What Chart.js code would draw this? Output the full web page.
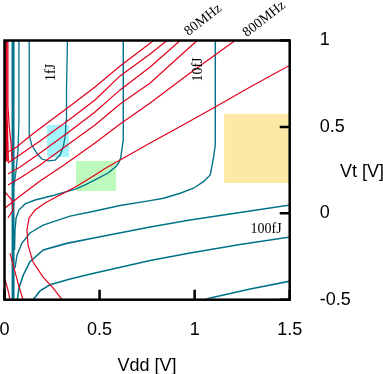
<!DOCTYPE html>
<html>
<head>
<meta charset="utf-8">
<script src="https://cdn.jsdelivr.net/npm/chart.js@4/dist/chart.umd.min.js"></script>
<style>
  html, body { margin: 0; padding: 0; background: #fff; }
</style>
</head>
<body>
<canvas id="chart" width="383" height="374"></canvas>
<script>
// axis ticks
const xTicks = [0, 0.5, 1, 1.5];
const yTicks = [-0.5, 0, 0.5, 1];

// energy contours (teal), [Vdd, Vt]
const tealEdge = [[0.045, 1.0], [0.045, -0.5]];
const tealInner = [[0.076, 1.0], [0.076, 0.54], [0.071, 0.366], [0.061, 0.25], [0.05, 0.16]];
const energy1fJ = [[0.130, 1.0], [0.130, 0.453], [0.143, 0.395], [0.169, 0.349], [0.196, 0.314], [0.231, 0.303], [0.266, 0.308], [0.292, 0.337], [0.309, 0.384], [0.320, 0.453], [0.324, 0.54], [0.326, 0.714], [0.331, 1.0]];
const energyA = [[0.625, 1.0], [0.625, 0.656], [0.624, 0.424], [0.617, 0.366], [0.611, 0.32], [0.600, 0.291], [0.589, 0.274], [0.545, 0.233], [0.476, 0.193], [0.424, 0.164], [0.376, 0.141], [0.266, 0.106], [0.161, 0.077], [0.108, 0.054], [0.076, 0.019], [0.061, -0.027], [0.055, -0.097], [0.053, -0.212]];
const energy10fJ = [[1.109, 1.0], [1.109, 0.656], [1.108, 0.395], [1.099, 0.32], [1.089, 0.262], [1.082, 0.222], [1.046, 0.183], [0.994, 0.145], [0.924, 0.116], [0.836, 0.087], [0.766, 0.073], [0.608, 0.045], [0.476, 0.013], [0.345, -0.016], [0.203, -0.068], [0.134, -0.114], [0.092, -0.172], [0.066, -0.241], [0.055, -0.317]];
const energyB = [[1.503, 0.048], [1.239, 0.005], [0.976, -0.039], [0.766, -0.079], [0.476, -0.141], [0.327, -0.174], [0.204, -0.212], [0.134, -0.28], [0.099, -0.357], [0.076, -0.432], [0.068, -0.5]];
const energy100fJ = [[1.503, -0.137], [1.239, -0.181], [0.976, -0.23], [0.766, -0.273], [0.476, -0.345], [0.345, -0.38], [0.239, -0.414], [0.187, -0.449], [0.15, -0.5]];
const energyC = [[1.503, -0.392], [1.292, -0.438], [1.082, -0.49], [1.055, -0.5]];

// frequency contours (red), [Vdd, Vt]
const freq1 = [[0.782, 1.0], [0.766, 0.984], [0.608, 0.852], [0.476, 0.731], [0.345, 0.621], [0.239, 0.534], [0.134, 0.447], [0.064, 0.384], [0.018, 0.355]];
const freq2 = [[0.855, 1.0], [0.766, 0.922], [0.608, 0.795], [0.476, 0.656], [0.345, 0.546], [0.187, 0.418], [0.064, 0.326], [0.018, 0.291]];
const freq3 = [[0.924, 1.0], [0.766, 0.847], [0.608, 0.714], [0.476, 0.586], [0.345, 0.476], [0.187, 0.349], [0.082, 0.268], [0.018, 0.227]];
const freq4 = [[1.013, 1.0], [0.766, 0.754], [0.608, 0.633], [0.476, 0.511], [0.345, 0.407], [0.187, 0.28], [0.082, 0.204], [0.018, 0.164]];
const freq5 = [[1.213, 1.0], [0.976, 0.812], [0.766, 0.638], [0.608, 0.517], [0.476, 0.407], [0.313, 0.28], [0.187, 0.187], [0.082, 0.1], [0.003, 0.031]];
const freq6 = [[1.503, 0.858], [1.292, 0.731], [1.108, 0.615], [0.924, 0.502], [0.766, 0.407], [0.608, 0.308], [0.529, 0.259], [0.476, 0.222], [0.382, 0.158], [0.292, 0.106], [0.213, 0.06], [0.161, 0.019], [0.129, -0.027], [0.118, -0.097], [0.124, -0.184], [0.15, -0.282], [0.203, -0.369], [0.255, -0.432], [0.303, -0.5]];
const freqLow1 = [[0.006, 1.0], [0.006, 0.55], [0.008, 0.4], [0.01, 0.3]];
const freqLow2 = [[0.012, 1.0], [0.012, 0.6], [0.016, 0.45], [0.02, 0.3]];
const freqLow3 = [[0.018, 1.0], [0.018, 0.62], [0.025, 0.5], [0.035, 0.4], [0.04, 0.3]];
const freqLow4 = [[0.003, 0.123], [0.039, 0.077], [0.045, 0.019], [0.018, -0.027]];
const freqLow5 = [[0.029, -0.23], [0.05, -0.317], [0.071, -0.403], [0.097, -0.5]];
const freqLow6 = [[0.003, -0.386], [0.018, -0.443], [0.029, -0.5]];

// shaded regions [vddMin, vddMax, vtMin, vtMax]
const boxCyan = [0.224, 0.339, 0.326, 0.511];
const boxGreen = [0.376, 0.587, 0.129, 0.303];
const boxYellow = [1.155, 1.5, 0.175, 0.575];

// contour labels [text, vdd, vt, angle]
const contourLabels = [
  ['1fJ', 0.247, 0.815, -90],
  ['10fJ', 1.018, 0.832, -90],
  ['100fJ', 1.376, -0.091, 0],
  ['80MHz', 1.045, 1.119, -38],
  ['800MHz', 1.366, 1.124, -38]
];

const TEAL = '#00728a';
const RED = '#e2001e';

function pts(arr) { return arr.map(p => ({ x: p[0], y: p[1] })); }
function ds(arr, color, w) {
  return { data: pts(arr), borderColor: color, borderWidth: w, showLine: true, pointRadius: 0, fill: false, tension: 0 };
}

const datasets = [
  ds(freq1, RED, 1.2), ds(freq2, RED, 1.2), ds(freq3, RED, 1.2), ds(freq4, RED, 1.2),
  ds(freq5, RED, 1.2), ds(freq6, RED, 1.2),
  ds(freqLow1, RED, 2.5), ds(freqLow2, RED, 1.5), ds(freqLow3, RED, 1.2),
  ds(freqLow4, RED, 1.2), ds(freqLow5, RED, 1.2), ds(freqLow6, RED, 1.2),
  ds(tealEdge, TEAL, 3), ds(tealInner, TEAL, 1.3), ds(energy1fJ, TEAL, 1.3),
  ds(energyA, TEAL, 1.4), ds(energy10fJ, TEAL, 1.4), ds(energyB, TEAL, 1.6),
  ds(energy100fJ, TEAL, 1.6), ds(energyC, TEAL, 1.6)
];

const decor = {
  id: 'decor',
  beforeDatasetsDraw(chart) {
    const { ctx, chartArea: a, scales: { x, y } } = chart;
    ctx.save();
    ctx.beginPath();
    ctx.rect(a.left, a.top, a.right - a.left, a.bottom - a.top);
    ctx.clip();
    [[boxCyan, '#a2f6fc'], [boxGreen, '#bdfbbd'], [boxYellow, '#fde9a6']].forEach(([b, c]) => {
      const x0 = x.getPixelForValue(b[0]), x1 = x.getPixelForValue(b[1]);
      const y0 = y.getPixelForValue(b[3]), y1 = y.getPixelForValue(b[2]);
      ctx.fillStyle = c;
      ctx.fillRect(x0, y0, x1 - x0, y1 - y0);
    });
    ctx.restore();
  },
  afterDatasetsDraw(chart) {
    const { ctx, chartArea: a, scales: { x, y } } = chart;
    ctx.save();
    // inward ticks
    ctx.strokeStyle = '#000';
    ctx.lineWidth = 2.5;
    ctx.beginPath();
    xTicks.forEach(v => {
      const px = x.getPixelForValue(v);
      ctx.moveTo(px, a.bottom); ctx.lineTo(px, a.bottom - 10);
    });
    yTicks.forEach(v => {
      const py = y.getPixelForValue(v);
      ctx.moveTo(a.right, py); ctx.lineTo(a.right - 10, py);
    });
    ctx.stroke();
    // frame
    ctx.lineWidth = 2.5;
    ctx.strokeRect(a.left, a.top, a.right - a.left, a.bottom - a.top);

    // contour labels
    ctx.fillStyle = '#000';
    ctx.font = '14px "Liberation Serif", serif';
    ctx.textAlign = 'center';
    ctx.textBaseline = 'middle';
    contourLabels.forEach(([t, vx, vy, ang]) => {
      ctx.save();
      ctx.translate(x.getPixelForValue(vx), y.getPixelForValue(vy));
      ctx.rotate(ang * Math.PI / 180);
      ctx.fillText(t, 0, 0);
      ctx.restore();
    });

    // axis titles
    ctx.font = '18px "Liberation Sans", Arial, sans-serif';
    ctx.textBaseline = 'alphabetic';
    ctx.textAlign = 'center';
    ctx.fillText('Vdd [V]', (a.left + a.right) / 2, 371);
    ctx.textAlign = 'left';
    ctx.fillText('Vt [V]', 340, 177);
    ctx.restore();
  }
};

new Chart(document.getElementById('chart'), {
  type: 'scatter',
  data: { datasets },
  options: {
    responsive: false,
    animation: false,
    devicePixelRatio: 1,
    layout: { padding: { left: 4.5, top: 40.5, right: 0, bottom: 0 } },
    plugins: { legend: { display: false }, tooltip: { enabled: false } },
    scales: {
      x: {
        type: 'linear', min: 0, max: 1.5,
        afterBuildTicks: s => { s.ticks = xTicks.map(v => ({ value: v })); },
        afterFit: s => { s.height = 74.3; s.paddingLeft = 0; s.paddingRight = 0; },
        grid: { display: false, drawTicks: false },
        border: { display: false },
        ticks: { color: '#000', padding: 20, maxRotation: 0, callback: v => String(v), font: { family: '"Liberation Sans", Arial, sans-serif', size: 18 } }
      },
      y: {
        type: 'linear', position: 'right', min: -0.5, max: 1,
        afterBuildTicks: s => { s.ticks = yTicks.map(v => ({ value: v })); },
        afterFit: s => { s.width = 93.3; s.paddingTop = 0; s.paddingBottom = 0; },
        grid: { display: false, drawTicks: false },
        border: { display: false },
        ticks: { color: '#000', padding: 30, callback: v => String(v), font: { family: '"Liberation Sans", Arial, sans-serif', size: 18 } }
      }
    }
  },
  plugins: [decor]
});
</script>
</body>
</html>
